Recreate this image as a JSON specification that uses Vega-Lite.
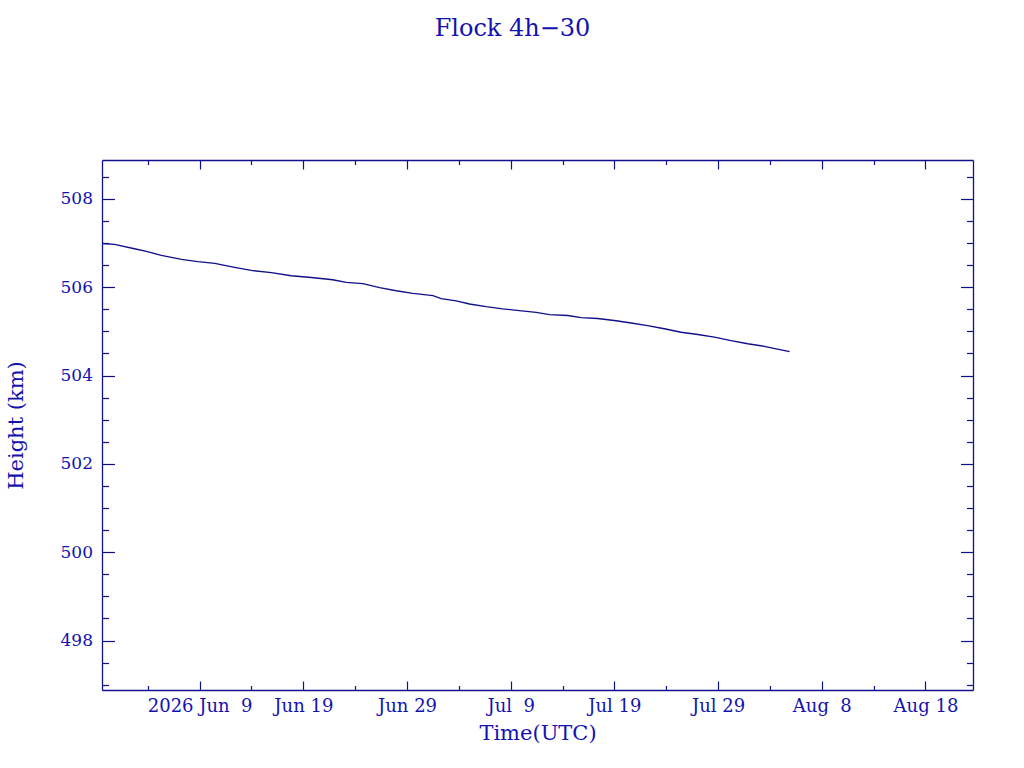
{
  "$schema": "https://vega.github.io/schema/vega-lite/v6.json",
  "description": "Flock 4h-30 orbit height decay over time.",
  "background": "white",
  "width": 871,
  "height": 530,
  "autosize": {"type": "none"},
  "padding": {"left": 102, "top": 160, "right": 51, "bottom": 78},
  "title": {
    "text": "Flock 4h\u221230",
    "font": "DejaVu Serif",
    "fontSize": 24,
    "fontWeight": "normal",
    "color": "#1212b0",
    "anchor": "middle",
    "baseline": "alphabetic",
    "offset": 99,
    "dx": -25
  },
  "data": {
    "values": [
      {"t": "2026-05-30T14:00:00Z", "h": 506.99},
      {"t": "2026-05-31T19:00:00Z", "h": 506.97},
      {"t": "2026-06-02T17:00:00Z", "h": 506.87},
      {"t": "2026-06-03T21:00:00Z", "h": 506.81},
      {"t": "2026-06-05T07:30:00Z", "h": 506.72},
      {"t": "2026-06-07T06:00:00Z", "h": 506.63},
      {"t": "2026-06-08T20:00:00Z", "h": 506.58},
      {"t": "2026-06-10T11:00:00Z", "h": 506.54},
      {"t": "2026-06-12T09:00:00Z", "h": 506.45},
      {"t": "2026-06-13T23:30:00Z", "h": 506.38},
      {"t": "2026-06-15T22:00:00Z", "h": 506.33},
      {"t": "2026-06-17T20:00:00Z", "h": 506.26},
      {"t": "2026-06-19T18:30:00Z", "h": 506.22},
      {"t": "2026-06-21T20:00:00Z", "h": 506.17},
      {"t": "2026-06-23T03:30:00Z", "h": 506.11},
      {"t": "2026-06-24T18:00:00Z", "h": 506.08},
      {"t": "2026-06-26T08:30:00Z", "h": 505.99},
      {"t": "2026-06-27T23:00:00Z", "h": 505.92},
      {"t": "2026-06-29T13:30:00Z", "h": 505.86},
      {"t": "2026-07-01T12:00:00Z", "h": 505.81},
      {"t": "2026-07-02T07:00:00Z", "h": 505.74},
      {"t": "2026-07-03T18:00:00Z", "h": 505.69},
      {"t": "2026-07-05T00:30:00Z", "h": 505.62},
      {"t": "2026-07-06T15:00:00Z", "h": 505.56},
      {"t": "2026-07-08T05:30:00Z", "h": 505.51},
      {"t": "2026-07-09T20:00:00Z", "h": 505.47},
      {"t": "2026-07-11T11:00:00Z", "h": 505.43},
      {"t": "2026-07-12T17:30:00Z", "h": 505.38},
      {"t": "2026-07-14T12:00:00Z", "h": 505.36},
      {"t": "2026-07-15T19:00:00Z", "h": 505.31},
      {"t": "2026-07-17T09:30:00Z", "h": 505.29},
      {"t": "2026-07-19T04:00:00Z", "h": 505.24},
      {"t": "2026-07-20T14:30:00Z", "h": 505.19},
      {"t": "2026-07-22T05:00:00Z", "h": 505.13},
      {"t": "2026-07-23T19:30:00Z", "h": 505.06},
      {"t": "2026-07-25T10:30:00Z", "h": 504.98},
      {"t": "2026-07-27T01:00:00Z", "h": 504.93},
      {"t": "2026-07-28T15:30:00Z", "h": 504.87},
      {"t": "2026-07-30T06:00:00Z", "h": 504.79},
      {"t": "2026-07-31T20:30:00Z", "h": 504.72},
      {"t": "2026-08-02T11:00:00Z", "h": 504.66},
      {"t": "2026-08-04T01:30:00Z", "h": 504.58},
      {"t": "2026-08-04T21:30:00Z", "h": 504.54}
    ]
  },
  "layer": [
    {
      "mark": {"type": "line", "color": "#10108a", "strokeWidth": 1.4},
      "encoding": {
        "x": {
          "field": "t", "type": "temporal",
          "scale": {"type": "utc", "domain": [{"year": 2026, "month": 5, "date": 30, "hours": 14, "utc": true}, {"year": 2026, "month": 8, "date": 22, "hours": 14, "utc": true}]},
          "axis": {
            "orient": "bottom",
            "values": [
              {"year": 2026, "month": 6, "date": 9, "utc": true},
              {"year": 2026, "month": 6, "date": 19, "utc": true},
              {"year": 2026, "month": 6, "date": 29, "utc": true},
              {"year": 2026, "month": 7, "date": 9, "utc": true},
              {"year": 2026, "month": 7, "date": 19, "utc": true},
              {"year": 2026, "month": 7, "date": 29, "utc": true},
              {"year": 2026, "month": 8, "date": 8, "utc": true},
              {"year": 2026, "month": 8, "date": 18, "utc": true}
            ],
            "labelExpr": "utcmonth(datum.value) == 5 && utcdate(datum.value) == 9 ? '2026 Jun\u00a0\u00a09' : replace(utcFormat(datum.value, '%b %e'), '  ', '\u00a0\u00a0')",
            "labelFontSize": 18,
            "tickSize": -9,
            "labelPadding": 16,
            "title": "Time(UTC)",
            "titlePadding": 7
          }
        },
        "y": {
          "field": "h", "type": "quantitative",
          "scale": {"domain": [496.88, 508.88], "nice": false, "zero": false},
          "axis": {
            "orient": "left",
            "values": [498, 500, 502, 504, 506, 508],
            "tickSize": -12.5,
            "labelPadding": 22,
            "title": "Height (km)",
            "titlePadding": 34
          }
        }
      }
    },
    {
      "mark": {"type": "line", "strokeOpacity": 0},
      "encoding": {
        "x": {
          "field": "t", "type": "temporal",
          "scale": {"type": "utc", "domain": [{"year": 2026, "month": 5, "date": 30, "hours": 14, "utc": true}, {"year": 2026, "month": 8, "date": 22, "hours": 14, "utc": true}]},
          "axis": {
            "orient": "bottom",
            "values": [
              {"year": 2026, "month": 6, "date": 4, "utc": true},
              {"year": 2026, "month": 6, "date": 14, "utc": true},
              {"year": 2026, "month": 6, "date": 24, "utc": true},
              {"year": 2026, "month": 7, "date": 4, "utc": true},
              {"year": 2026, "month": 7, "date": 14, "utc": true},
              {"year": 2026, "month": 7, "date": 24, "utc": true},
              {"year": 2026, "month": 8, "date": 3, "utc": true},
              {"year": 2026, "month": 8, "date": 13, "utc": true}
            ],
            "tickSize": -4.5, "labels": false, "domain": false, "title": null
          }
        },
        "y": {
          "field": "h", "type": "quantitative",
          "scale": {"domain": [496.88, 508.88], "nice": false, "zero": false},
          "axis": {
            "orient": "left",
            "values": [497, 497.5, 498.5, 499, 499.5, 500.5, 501, 501.5, 502.5, 503, 503.5, 504.5, 505, 505.5, 506.5, 507, 507.5, 508.5],
            "tickSize": -6.5, "labels": false, "domain": false, "title": null
          }
        }
      }
    },
    {
      "mark": {"type": "line", "strokeOpacity": 0},
      "encoding": {
        "x": {
          "field": "t", "type": "temporal",
          "scale": {"type": "utc", "domain": [{"year": 2026, "month": 5, "date": 30, "hours": 14, "utc": true}, {"year": 2026, "month": 8, "date": 22, "hours": 14, "utc": true}]},
          "axis": {
            "orient": "top",
            "values": [
              {"year": 2026, "month": 6, "date": 9, "utc": true},
              {"year": 2026, "month": 6, "date": 19, "utc": true},
              {"year": 2026, "month": 6, "date": 29, "utc": true},
              {"year": 2026, "month": 7, "date": 9, "utc": true},
              {"year": 2026, "month": 7, "date": 19, "utc": true},
              {"year": 2026, "month": 7, "date": 29, "utc": true},
              {"year": 2026, "month": 8, "date": 8, "utc": true},
              {"year": 2026, "month": 8, "date": 18, "utc": true}
            ],
            "tickSize": -9, "labels": false, "title": null
          }
        },
        "y": {
          "field": "h", "type": "quantitative",
          "scale": {"domain": [496.88, 508.88], "nice": false, "zero": false},
          "axis": {
            "orient": "right",
            "values": [498, 500, 502, 504, 506, 508],
            "tickSize": -12.5, "labels": false, "title": null
          }
        }
      }
    },
    {
      "mark": {"type": "line", "strokeOpacity": 0},
      "encoding": {
        "x": {
          "field": "t", "type": "temporal",
          "scale": {"type": "utc", "domain": [{"year": 2026, "month": 5, "date": 30, "hours": 14, "utc": true}, {"year": 2026, "month": 8, "date": 22, "hours": 14, "utc": true}]},
          "axis": {
            "orient": "top",
            "values": [
              {"year": 2026, "month": 6, "date": 4, "utc": true},
              {"year": 2026, "month": 6, "date": 14, "utc": true},
              {"year": 2026, "month": 6, "date": 24, "utc": true},
              {"year": 2026, "month": 7, "date": 4, "utc": true},
              {"year": 2026, "month": 7, "date": 14, "utc": true},
              {"year": 2026, "month": 7, "date": 24, "utc": true},
              {"year": 2026, "month": 8, "date": 3, "utc": true},
              {"year": 2026, "month": 8, "date": 13, "utc": true}
            ],
            "tickSize": -4.5, "labels": false, "domain": false, "title": null
          }
        },
        "y": {
          "field": "h", "type": "quantitative",
          "scale": {"domain": [496.88, 508.88], "nice": false, "zero": false},
          "axis": {
            "orient": "right",
            "values": [497, 497.5, 498.5, 499, 499.5, 500.5, 501, 501.5, 502.5, 503, 503.5, 504.5, 505, 505.5, 506.5, 507, 507.5, 508.5],
            "tickSize": -6.5, "labels": false, "domain": false, "title": null
          }
        }
      }
    }
  ],
  "resolve": {"axis": {"x": "independent", "y": "independent"}},
  "config": {
    "view": {"stroke": null},
    "axis": {
      "grid": false,
      "domainColor": "#10108a",
      "domainWidth": 1.3,
      "tickColor": "#10108a",
      "tickWidth": 1.2,
      "labelColor": "#1212b0",
      "labelFont": "DejaVu Serif",
      "labelFontSize": 17,
      "labelAngle": 0,
      "titleColor": "#1212b0",
      "titleFont": "DejaVu Serif",
      "titleFontSize": 21,
      "titleFontWeight": "normal"
    },
    "axisY": {"labelBaseline": "middle"}
  }
}
